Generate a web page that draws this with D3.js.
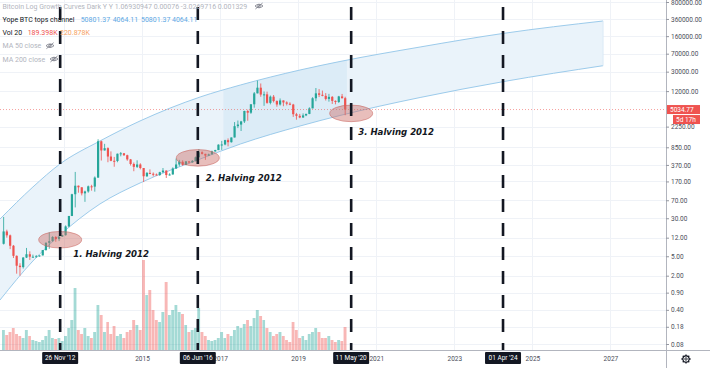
<!DOCTYPE html>
<html>
<head>
<meta charset="utf-8">
<script src="https://cdn.jsdelivr.net/npm/d3@7"></script>
<style>
body{margin:0;background:#fff;}
svg{display:block;font-family:Roboto,"Trebuchet MS",sans-serif;}
</style>
</head>
<body>
<svg width="710" height="368"></svg>
<script>
// monthly candles Jun 2011 .. Mar 2020
var firstMonth = new Date(2011, 5, 1);
var firstOpen = 9.0;
var closes = [16.1,13.4,8.2,5.1,3.2,3.0,4.7,
  5.5,4.9,4.9,5.0,5.2,6.7,9.4,10.2,12.4,11.2,12.6,13.5,
  20.4,33.4,93,139,129,97,106,135,133,204,1128,732,
  815,550,450,445,628,640,585,480,387,338,378,320,
  217,254,244,236,230,263,284,230,236,313,378,430,
  369,437,416,448,530,673,624,574,609,700,745,963,
  970,1190,1080,1350,2300,2480,2875,4700,4340,6450,10800,14100,
  10200,10300,6900,9240,7500,6390,7730,7030,6630,6370,4040,3740,
  3460,3820,4100,5320,8570,10800,10080,9600,8300,9150,7570,7190,
  9350,8600,5034.77];
var highs = [31.9,17.5,13.9,8.5,5.2,3.6,4.8,
  7.4,6.3,5.4,5.3,5.2,6.7,9.7,15.4,12.9,12.9,12.7,13.9,
  21.4,33.4,95,266,140,129,110,140,145,215,1242,1160,
  1000,850,700,540,630,680,650,600,490,415,460,400,
  320,265,300,260,247,268,320,285,250,330,500,470,
  460,445,440,465,550,780,705,627,630,725,755,975,
  1150,1210,1290,1350,2790,3000,2950,4760,5000,6470,11500,19700,
  17200,11800,11700,9750,9990,7760,8500,7760,7410,7100,6580,4300,
  4100,4200,4140,5600,9000,13880,13200,12300,10930,10540,9500,7750,
  9580,10500,9190];
var lows = [8.7,12.0,7.0,4.6,2.2,2.0,2.8,
  4.6,4.2,4.7,4.7,4.9,5.2,6.5,7.1,9.9,9.9,10.2,12.5,
  13.2,19.6,33.2,50,100,88,65,100,110,105,200,455,
  730,420,440,340,420,555,565,450,360,275,320,300,
  165,210,240,215,225,220,253,200,225,235,306,345,
  355,365,395,410,435,530,605,470,570,605,690,745,
  750,935,890,1060,1350,2100,1830,2670,2970,4110,5500,10800,
  9200,6000,6600,6430,7030,5750,6070,5880,6110,6180,3560,3120,
  3350,3390,3690,4050,5320,7450,9070,9400,7710,7300,6550,6430,
  6870,8450,3850];
// volume, K
var volumes = [40,30,36,44,32,28,24,
  40,28,20,18,16,20,28,40,24,22,24,18,
  28,44,60,124,40,32,44,28,24,36,90,70,
  36,56,32,48,28,32,24,36,40,60,50,40,
  180,110,120,80,60,56,76,136,70,80,90,76,
  72,50,36,40,44,84,36,28,20,18,20,24,
  36,24,32,28,40,48,44,52,60,48,64,80,
  68,60,44,36,28,32,36,28,20,16,56,40,
  24,28,20,32,36,44,36,24,24,28,20,16,
  20,18,46];

// Yope BTC tops channel
var bandDates = ['2011-05-13','2012-03-16','2012-11-24','2013-12-03','2014-12-13','2016-06-28',
  '2017-07-10','2019-01-19','2020-01-27','2022-02-15','2024-04-10','2026-10-24'];
var bandUpper = [28.9,130.8,386.6,1143,2934,9092,16010,32460,48460,95940,183000,326800];
var bandLower = [0.636,4.00,13.6,58.7,157.9,489.3,992.4,2318,3802,8880,18870,39740];
var bandDark = ['2017-02-01','2020-04-01'];

var halvingDates = ['2012-11-26','2016-06-06','2020-05-11','2024-04-01'];
var halvingTags = ["26 Nov '12","06 Jun '16","11 May '20","01 Apr '24"];
var ellipsePrices = [10.9,516,4200];
var annoTexts = ['1. Halving 2012','2. Halving 2012','3. Halving 2012'];
var annoPrices = [4.88,175,1525];

var yTicks = [800000,360000,160000,70000,30000,12000,2250,850,370,170,70,30,12,5,2,0.9,0.4,0.18,0.08];
var gridYears = [2013,2015,2017,2019,2021,2023,2025,2027];
var yearLabels = [2015,2017,2019,2021,2023,2025,2027];
var lastPrice = 5034.77;

var W = 666, H = 350;
var parse = d3.timeParse('%Y-%m-%d');
var svg = d3.select('svg');
var xs = d3.scaleTime().domain([new Date(2011,4,13), new Date(2028,5,4)]).range([0, W]);
var ys = d3.scaleLog().domain([0.08, 800000]).range([344, 2]);
var vs = d3.scaleLinear().domain([0, 200]).range([H, 250]);

var defs = svg.append('defs');
defs.append('clipPath').attr('id','plot').append('rect').attr('width',W).attr('height',H);
defs.append('clipPath').attr('id','dark').append('rect')
  .attr('x', xs(parse(bandDark[0]))).attr('width', xs(parse(bandDark[1])) - xs(parse(bandDark[0])))
  .attr('height', H);

// grid
var grid = svg.append('g').attr('stroke','#eff2f7').attr('stroke-width',1);
grid.selectAll('.hg').data(yTicks).enter().append('line')
  .attr('x1',0).attr('x2',W)
  .attr('y1',function(d){return Math.round(ys(d))+0.5;})
  .attr('y2',function(d){return Math.round(ys(d))+0.5;});
grid.selectAll('.vg').data(gridYears).enter().append('line')
  .attr('y1',0).attr('y2',H)
  .attr('x1',function(d){return Math.round(xs(new Date(d,0,1)))+0.5;})
  .attr('x2',function(d){return Math.round(xs(new Date(d,0,1)))+0.5;});

var plot = svg.append('g').attr('clip-path','url(#plot)');

// channel
var band = bandDates.map(function(d,i){return {date:parse(d), hi:bandUpper[i], lo:bandLower[i]};});
var area = d3.area().x(function(d){return xs(d.date);})
  .y0(function(d){return ys(d.lo);}).y1(function(d){return ys(d.hi);})
  .curve(d3.curveMonotoneX);
plot.append('path').datum(band).attr('d',area).attr('fill','#eaf3fa');
plot.append('path').datum(band).attr('d',area).attr('fill','#d6e8f5').attr('opacity',0.7)
  .attr('clip-path','url(#dark)');
['hi','lo'].forEach(function(k){
  plot.append('path').datum(band)
    .attr('d', d3.line().x(function(d){return xs(d.date);}).y(function(d){return ys(d[k]);}).curve(d3.curveMonotoneX))
    .attr('fill','none').attr('stroke','#9ccbeb').attr('stroke-width',1);
});
var bEnd = band[band.length-1];
plot.append('line').attr('x1',xs(bEnd.date)).attr('x2',xs(bEnd.date))
  .attr('y1',ys(bEnd.hi)).attr('y2',ys(bEnd.lo)).attr('stroke','#dbeaf6');

// candles + volume
var months = closes.map(function(c,i){return d3.timeMonth.offset(firstMonth, i);});
var opens = closes.map(function(c,i){return i ? closes[i-1] : firstOpen;});
var up = function(i){return closes[i] >= opens[i];};

plot.selectAll('.vol').data(volumes).enter().append('rect')
  .attr('x',function(d,i){return xs(months[i]);})
  .attr('width',function(d,i){return xs(d3.timeMonth.offset(months[i],1)) - xs(months[i]) - 0.4;})
  .attr('y',function(d){return vs(d);})
  .attr('height',function(d){return H - vs(d);})
  .attr('fill',function(d,i){return up(i) ? '#26a69a' : '#ef5350';})
  .attr('opacity',0.42);

var cx = function(i){return xs(d3.timeDay.offset(months[i],15));};
plot.selectAll('.wick').data(closes).enter().append('line')
  .attr('x1',function(d,i){return cx(i);}).attr('x2',function(d,i){return cx(i);})
  .attr('y1',function(d,i){return ys(highs[i]);}).attr('y2',function(d,i){return ys(lows[i]);})
  .attr('stroke',function(d,i){return up(i) ? '#26a69a' : '#ef5350';}).attr('stroke-width',0.8);
plot.selectAll('.body').data(closes).enter().append('rect')
  .attr('x',function(d,i){return cx(i)-1.1;}).attr('width',2.2)
  .attr('y',function(d,i){return ys(Math.max(d,opens[i]));})
  .attr('height',function(d,i){return Math.max(1, ys(Math.min(d,opens[i])) - ys(Math.max(d,opens[i])));})
  .attr('fill',function(d,i){return up(i) ? '#26a69a' : '#ef5350';});

// last price line
plot.append('line').attr('x1',0).attr('x2',W)
  .attr('y1',ys(lastPrice)).attr('y2',ys(lastPrice))
  .attr('stroke','#ef5350').attr('stroke-opacity',0.55).attr('stroke-dasharray','1,2');

// halving ellipses
plot.selectAll('.ell').data(ellipsePrices).enter().append('ellipse')
  .attr('cx',function(d,i){return xs(parse(halvingDates[i]));})
  .attr('cy',function(d){return ys(d);})
  .attr('rx',21.5).attr('ry',8.3)
  .attr('fill','rgba(205,110,105,0.45)').attr('stroke','rgba(200,100,95,0.55)');

// dashed halving lines
plot.selectAll('.hl').data(halvingDates).enter().append('line')
  .attr('x1',function(d){return xs(parse(d));}).attr('x2',function(d){return xs(parse(d));})
  .attr('y1',0).attr('y2',H)
  .attr('stroke','#131722').attr('stroke-width',2.6)
  .attr('stroke-dasharray','13,11').attr('stroke-dashoffset',17);

// annotations
var annoDx = [13,8,7];
svg.selectAll('.anno').data(annoTexts).enter().append('text')
  .attr('x',function(d,i){return xs(parse(halvingDates[i])) + annoDx[i];})
  .attr('y',function(d,i){return ys(annoPrices[i]);})
  .attr('font-family','"DejaVu Sans",Verdana,sans-serif')
  .attr('font-weight','bold').attr('font-style','italic').attr('font-size',8.6)
  .attr('fill','#131722').text(function(d){return d;});

// axes
svg.append('line').attr('x1',0).attr('x2',710).attr('y1',H+0.5).attr('y2',H+0.5).attr('stroke','#b2b5be');
svg.append('line').attr('x1',W+0.5).attr('x2',W+0.5).attr('y1',0).attr('y2',368).attr('stroke','#b2b5be');

var yAxis = svg.append('g').attr('transform','translate('+W+',0)')
  .call(d3.axisRight(ys).tickValues(yTicks).tickSize(3).tickPadding(2)
    .tickFormat(function(d){return d.toFixed(2);}));
yAxis.select('.domain').remove();
yAxis.selectAll('line').attr('stroke','#9598a1');
yAxis.selectAll('text').attr('font-size',6.5).attr('font-family','Roboto,sans-serif').attr('fill','#4a4e5a');

var xAxis = svg.append('g').attr('transform','translate(0,'+H+')')
  .call(d3.axisBottom(xs).tickValues(yearLabels.map(function(y){return new Date(y,0,1);}))
    .tickSize(0).tickPadding(6.5).tickFormat(d3.timeFormat('%Y')));
xAxis.select('.domain').remove();
xAxis.selectAll('text').attr('font-size',6.5).attr('font-family','Roboto,sans-serif').attr('fill','#4a4e5a');

// halving date tags
var tags = svg.selectAll('.tag').data(halvingDates).enter().append('g')
  .attr('transform',function(d){return 'translate('+xs(parse(d))+','+(H+2)+')';});
tags.append('rect').attr('x',-18).attr('width',36).attr('height',12).attr('rx',1).attr('fill','#131722');
tags.append('text').attr('y',8.3).attr('text-anchor','middle').attr('fill','#fff')
  .attr('font-size',6.5).text(function(d,i){return halvingTags[i];});

// price label
var py = ys(lastPrice);
svg.append('rect').attr('x',W+1).attr('y',py-4.5).attr('width',33).attr('height',9).attr('fill','#ef5350');
svg.append('text').attr('x',W+4).attr('y',py+2.3).attr('font-size',6.5).attr('fill','#fff').text(lastPrice.toFixed(2));
svg.append('rect').attr('x',W+7).attr('y',py+5.5).attr('width',27).attr('height',9).attr('fill','#ef5350');
svg.append('text').attr('x',W+10).attr('y',py+12.3).attr('font-size',6.5).attr('fill','#fff').text('5d 17h');

// gear
var gear = svg.append('g').attr('transform','translate(686,359)').attr('stroke','#131722').attr('fill','none');
gear.append('circle').attr('r',3.1).attr('stroke-width',1.1);
gear.selectAll('.t').data(d3.range(8)).enter().append('line')
  .attr('x1',function(d){return 3*Math.cos(d*Math.PI/4);}).attr('y1',function(d){return 3*Math.sin(d*Math.PI/4);})
  .attr('x2',function(d){return 4.6*Math.cos(d*Math.PI/4);}).attr('y2',function(d){return 4.6*Math.sin(d*Math.PI/4);})
  .attr('stroke-width',1.3);
gear.append('circle').attr('r',1.2).attr('stroke-width',0.9);

// legend
function eye(x,y){
  var g = svg.append('g').attr('transform','translate('+x+','+y+')').attr('fill','none').attr('stroke','#787b86').attr('stroke-width',0.8);
  g.append('path').attr('d','M-4,0Q0,-3.6 4,0Q0,3.6 -4,0Z');
  g.append('circle').attr('r',1.3);
  g.append('line').attr('x1',-3.6).attr('y1',3).attr('x2',3.6).attr('y2',-3);
}
var lg = svg.append('g').attr('font-size',7);
lg.append('text').attr('x',2.5).attr('y',8.5).attr('fill','#b2b5be')
  .text('Bitcoin Log Growth Curves Dark Y Y 1.06930947 0.00076 -3.0269716 0.001329');
eye(259,6);
lg.append('text').attr('x',2.5).attr('y',21.8).attr('fill','#131722').text('Yope BTC tops channel');
var chVals = ['50801.37','4064.11','50801.37','4064.11'];
var chX = [80.7,112.7,141,172];
chVals.forEach(function(v,i){
  lg.append('text').attr('x',chX[i]).attr('y',21.8).attr('fill','#5ea8e4').text(v);
});
lg.append('text').attr('x',2.5).attr('y',35.2).attr('fill','#131722').text('Vol 20');
lg.append('text').attr('x',27.7).attr('y',35.2).attr('fill','#ef5350').text('189.398K');
lg.append('text').attr('x',60).attr('y',35.2).attr('fill','#f6a15e').text('220.878K');
lg.append('text').attr('x',2.5).attr('y',48.2).attr('fill','#b2b5be').text('MA 50 close');
eye(50,45.7);
lg.append('text').attr('x',2.5).attr('y',61.5).attr('fill','#b2b5be').text('MA 200 close');
eye(54,59);
</script>
</body>
</html>
